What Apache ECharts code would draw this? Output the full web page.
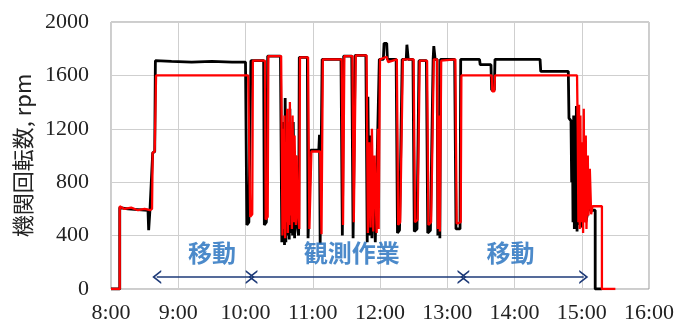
<!DOCTYPE html>
<html>
<head>
<meta charset="utf-8">
<script src="https://cdn.jsdelivr.net/npm/echarts@6/dist/echarts.min.js"></script>
<style>
  html, body { margin: 0; padding: 0; background: #fff; }
  #chart { width: 678px; height: 327px; }
</style>
</head>
<body>
<div id="chart"></div>
<script>
// 時刻(時) と 機関回転数(rpm)
var blackPoints = [
  [8.00, 0], [8.13, 0], [8.13, 610], [8.25, 600], [8.40, 595], [8.55, 590], [8.56, 440], [8.58, 600],
  [8.62, 1020], [8.65, 1030], [8.66, 1710], [8.90, 1705], [9.20, 1700], [9.50, 1705], [9.80, 1700], [10.00, 1700],
  [10.02, 480], [10.05, 500], [10.08, 1710], [10.27, 1710], [10.28, 480], [10.31, 500], [10.33, 1745], [10.52, 1745],
  [10.54, 350], [10.55, 1100], [10.56, 400], [10.57, 1250], [10.58, 330], [10.59, 1430], [10.60, 350], [10.61, 1300],
  [10.62, 400], [10.63, 1200], [10.65, 370], [10.66, 1350], [10.67, 420], [10.68, 1100], [10.70, 400], [10.71, 1250],
  [10.73, 380], [10.74, 1000], [10.76, 500], [10.79, 400], [10.80, 1735], [10.92, 1735], [10.93, 380], [10.97, 1040],
  [11.09, 1040], [11.10, 1155], [11.11, 340], [11.14, 1720], [11.42, 1720], [11.44, 400], [11.46, 1745], [11.58, 1745],
  [11.60, 380], [11.63, 1750], [11.79, 1750], [11.81, 350], [11.82, 1440], [11.84, 400], [11.86, 1150], [11.88, 380],
  [11.90, 900], [11.93, 350], [11.99, 1720], [12.05, 1720], [12.06, 1840], [12.10, 1840], [12.11, 1720], [12.24, 1720],
  [12.26, 420], [12.29, 440], [12.33, 1720], [12.39, 1720], [12.40, 1830], [12.42, 1720], [12.49, 1720], [12.51, 430],
  [12.55, 450], [12.58, 1710], [12.69, 1710], [12.71, 420], [12.75, 440], [12.79, 1720], [12.80, 1820], [12.82, 1720],
  [12.85, 1720], [12.86, 400], [12.88, 1200], [12.89, 380], [12.90, 1720], [13.11, 1720], [13.13, 450], [13.19, 450],
  [13.20, 1720], [13.48, 1720], [13.49, 1680], [13.65, 1680], [13.66, 1490], [13.70, 1490], [13.71, 1720], [14.38, 1720],
  [14.39, 1630], [14.80, 1630], [14.81, 1280], [14.84, 1260], [14.85, 800], [14.86, 1250], [14.87, 500], [14.88, 1300],
  [14.89, 450], [14.90, 1200], [14.91, 480], [14.92, 1370], [14.93, 430], [14.95, 1100], [14.96, 480], [14.98, 900],
  [15.00, 460], [15.03, 700], [15.06, 500], [15.10, 600], [15.15, 590], [15.20, 590], [15.20, 0], [15.30, 0]
];
var redPoints = [
  [8.00, 0], [8.13, 0], [8.13, 620], [8.20, 600], [8.30, 610], [8.40, 590], [8.50, 600], [8.58, 590],
  [8.61, 600], [8.62, 1020], [8.65, 1030], [8.67, 1600], [10.04, 1600], [10.07, 540], [10.10, 560], [10.11, 1710],
  [10.29, 1710], [10.30, 520], [10.33, 540], [10.34, 1745], [10.53, 1745], [10.55, 400], [10.56, 1200], [10.57, 450],
  [10.58, 1300], [10.59, 380], [10.60, 1100], [10.61, 500], [10.62, 1350], [10.63, 420], [10.64, 1250], [10.65, 480],
  [10.66, 1400], [10.67, 550], [10.68, 1200], [10.69, 450], [10.70, 1300], [10.72, 500], [10.73, 1150], [10.75, 480],
  [10.76, 1000], [10.78, 560], [10.80, 450], [10.81, 1735], [10.93, 1735], [10.95, 450], [10.98, 1030], [11.11, 1030],
  [11.13, 410], [11.15, 1720], [11.43, 1720], [11.45, 480], [11.47, 1745], [11.59, 1745], [11.61, 500], [11.64, 1750],
  [11.80, 1750], [11.82, 420], [11.84, 1100], [11.86, 460], [11.88, 1200], [11.90, 430], [11.92, 1000], [11.95, 420],
  [11.97, 1200], [11.98, 450], [12.00, 1720], [12.10, 1740], [12.12, 1700], [12.25, 1720], [12.27, 480], [12.30, 500],
  [12.34, 1720], [12.50, 1720], [12.52, 500], [12.56, 520], [12.59, 1710], [12.70, 1710], [12.72, 480], [12.76, 500],
  [12.80, 1720], [12.85, 1720], [12.86, 450], [12.88, 1300], [12.89, 430], [12.91, 1710], [13.12, 1720], [13.14, 490],
  [13.20, 500], [13.21, 1600], [13.66, 1600], [13.67, 1480], [13.70, 1480], [13.71, 1600], [14.93, 1600], [14.94, 1200],
  [14.95, 500], [14.96, 1380], [14.97, 450], [14.98, 1300], [14.99, 500], [15.00, 1100], [15.02, 420], [15.03, 1350],
  [15.04, 500], [15.06, 1150], [15.07, 450], [15.09, 1000], [15.10, 550], [15.12, 900], [15.14, 560], [15.16, 620],
  [15.30, 620], [15.30, 0], [15.50, 0]
];

// 注記（文字と矢印）
var annoText = ['移動', '観測作業', '移動'];
var annoTextPos = [[9.50, 270], [11.58, 270], [13.94, 270]];
var arrowRange = [[8.68, 10.07], [10.11, 13.22], [13.26, 15.03]];
var arrowY = 90;

var chart = echarts.init(document.getElementById('chart'), null, { renderer: 'canvas' });

var labelFont = { fontFamily: 'Liberation Serif', fontSize: 22, color: '#222' };
// 開いた矢じり
var chevron = 'path://M0,10 L5,0 L10,10 L8.6,10 L5,3 L1.4,10 Z';

var option = {
  animation: false,
  grid: {
    left: 111, right: 29, top: 22, bottom: 38,
    show: true, borderColor: '#9a9a9a', borderWidth: 1
  },
  xAxis: {
    type: 'value',
    min: 8, max: 16, interval: 1,
    axisLine: { show: false },
    axisTick: { show: false },
    splitLine: { show: true, lineStyle: { color: '#cfcfcf', width: 1 } },
    axisLabel: Object.assign({ margin: 13, formatter: function (v) { return v + ':00'; } }, labelFont)
  },
  yAxis: {
    type: 'value',
    min: 0, max: 2000, interval: 400,
    name: '機関回転数, rpm',
    nameLocation: 'middle',
    nameGap: 73,
    nameTextStyle: { fontFamily: 'Noto Sans CJK JP', fontSize: 22, color: '#222' },
    axisLine: { show: false },
    axisTick: { show: false },
    splitLine: { show: true, lineStyle: { color: '#cfcfcf', width: 1 } },
    axisLabel: Object.assign({ margin: 22, formatter: function (v) { return String(v); } }, labelFont)
  },
  series: [
    {
      name: 'black',
      type: 'line',
      data: blackPoints,
      showSymbol: false,
      lineStyle: { color: '#000', width: 2.8 },
      z: 2
    },
    {
      name: 'red',
      type: 'line',
      data: redPoints,
      showSymbol: false,
      lineStyle: { color: '#ff0000', width: 2.3 },
      z: 3
    },
    {
      // 注記
      type: 'scatter',
      data: annoTextPos.map(function (p, i) { return { value: p, name: annoText[i] }; }),
      symbolSize: 0,
      silent: true,
      label: {
        show: true,
        position: 'inside',
        formatter: '{b}',
        fontFamily: 'Noto Sans CJK JP',
        fontWeight: 'bold',
        fontSize: 24,
        color: '#1f6dbd'
      },
      markLine: {
        silent: true,
        symbol: [chevron, chevron],
        symbolSize: [14, 9],
        label: { show: false },
        lineStyle: { color: '#1d3a78', width: 1.6, type: 'solid' },
        data: arrowRange.map(function (r) {
          return [{ coord: [r[0], arrowY] }, { coord: [r[1], arrowY] }];
        })
      },
      z: 4
    }
  ]
};

chart.setOption(option);
</script>
</body>
</html>
